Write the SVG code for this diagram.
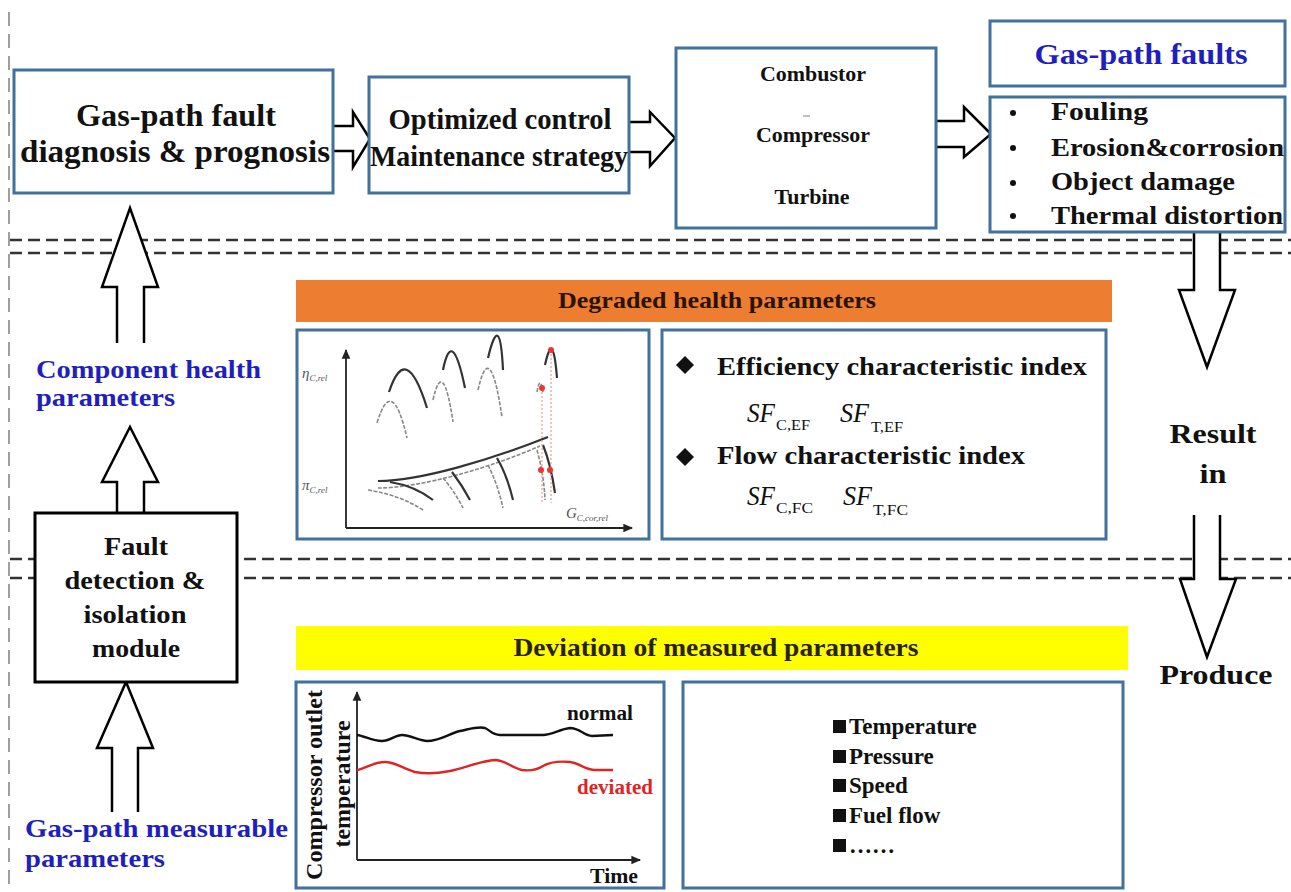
<svg xmlns="http://www.w3.org/2000/svg" width="1291" height="892" viewBox="0 0 1291 892">
  <style>
    .t { font-family: "Liberation Serif", "Times New Roman", serif; font-weight: bold; fill: #111; }
    .blue { fill: #1f1fbf; }
    .box { fill: #fff; stroke: #41719c; stroke-width: 3; }
    .kbox { fill: #fff; stroke: #000; stroke-width: 3; }
    .dash { stroke: #333; stroke-width: 2.5; stroke-dasharray: 12 6; fill: none; }
    .harrow { fill: #fff; stroke: #000; stroke-width: 2.5; stroke-linejoin: miter; }
    .sf { font-family: "Liberation Serif", "Times New Roman", serif; font-style: italic; fill: #111; }
    .sub { font-family: "Liberation Serif", "Times New Roman", serif; fill: #111; }
    .lbl { font-family: "Liberation Serif", "Times New Roman", serif; font-style: italic; fill: #555; }
    .dark { fill: none; stroke: #333; stroke-width: 2.2; }
    .light { fill: none; stroke: #888; stroke-width: 1.6; stroke-dasharray: 4 1.5; }
  </style>
  <defs>
    <marker id="axhead" viewBox="0 0 10 10" refX="8" refY="5" markerWidth="6" markerHeight="6" orient="auto-start-reverse">
      <path d="M0,1 L9,5 L0,9 Z" fill="#222"/>
    </marker>
    <clipPath id="listclip">
      <rect x="683" y="690" width="299" height="190"/>
    </clipPath>
  </defs>

  <rect width="1291" height="892" fill="#fff"/>

  <!-- section separators -->
  <g id="separators">
    <line class="dash" x1="9" y1="12" x2="9" y2="890" style="stroke:#888;stroke-width:1.6;stroke-dasharray:14 8"/>
    <line class="dash" x1="10" y1="240" x2="1291" y2="240"/>
    <line class="dash" x1="10" y1="253" x2="1291" y2="253"/>
    <line class="dash" x1="10" y1="559" x2="1291" y2="559"/>
    <line class="dash" x1="10" y1="578" x2="1291" y2="578"/>
  </g>

  <!-- connectors: hollow block arrows -->
  <g id="connectors">
    <path class="harrow" d="M333,126 H353 V112 L370,139 L353,167 V151 H333"/>
    <path class="harrow" d="M629,122 H650 V112 L675,138 L650,166 V152 H629"/>
    <path class="harrow" d="M937,121 H964 V107 L991,134 L964,157 V147 H937"/>
    <path class="harrow" d="M117,343 V287 H102 L130,208 L158,287 H144 V343"/>
    <path class="harrow" d="M117,513 V482 H102 L130,427 L158,482 H144 V513"/>
    <path class="harrow" d="M112,812 V748 H97 L126,682 L153,748 H138 V812"/>
    <path class="harrow" d="M1194,232 V290 H1179 L1207,367 L1235,290 H1220 V232"/>
    <path class="harrow" d="M1194,515 V579 H1180 L1207,657 L1236,579 H1220 V515"/>
  </g>

  <g id="diagnosis">
    <rect class="box" x="14" y="70" width="319" height="123"/>
    <text class="t" x="176" y="126" font-size="32" text-anchor="middle" textLength="200" lengthAdjust="spacingAndGlyphs">Gas-path fault</text>
    <text class="t" x="175" y="162" font-size="32" text-anchor="middle" textLength="310" lengthAdjust="spacingAndGlyphs">diagnosis &amp; prognosis</text>
  </g>

  <g id="strategy">
    <rect class="box" x="369" y="77" width="260" height="116"/>
    <text class="t" x="500" y="129" font-size="29" text-anchor="middle" textLength="223" lengthAdjust="spacingAndGlyphs">Optimized control</text>
    <text class="t" x="499" y="166" font-size="29" text-anchor="middle" textLength="258" lengthAdjust="spacingAndGlyphs">Maintenance strategy</text>
  </g>

  <g id="components">
    <rect class="box" x="676" y="48" width="260" height="180"/>
    <text class="t" x="813" y="81" font-size="20" text-anchor="middle" textLength="106" lengthAdjust="spacingAndGlyphs">Combustor</text>
    <line x1="803" y1="116" x2="810" y2="116" stroke="#aaa" stroke-width="1.5"/>
    <text class="t" x="813" y="142" font-size="20" text-anchor="middle" textLength="114" lengthAdjust="spacingAndGlyphs">Compressor</text>
    <text class="t" x="812" y="204" font-size="20" text-anchor="middle" textLength="75" lengthAdjust="spacingAndGlyphs">Turbine</text>
  </g>

  <g id="faults-title">
    <rect class="box" x="990" y="21" width="295" height="65"/>
    <text class="t blue" x="1141" y="64" font-size="29" text-anchor="middle" textLength="213" lengthAdjust="spacingAndGlyphs">Gas-path faults</text>
  </g>

  <g id="faults-list">
    <rect class="box" x="990" y="97" width="295" height="135"/>
    <g class="t" font-size="26">
      <circle cx="1013" cy="113" r="3" fill="#111"/>
      <circle cx="1013" cy="148" r="3" fill="#111"/>
      <circle cx="1013" cy="183" r="3" fill="#111"/>
      <circle cx="1013" cy="216" r="3" fill="#111"/>
      <text x="1051" y="120" textLength="97" lengthAdjust="spacingAndGlyphs">Fouling</text>
      <text x="1051" y="156" textLength="233" lengthAdjust="spacingAndGlyphs">Erosion&amp;corrosion</text>
      <text x="1051" y="190" textLength="184" lengthAdjust="spacingAndGlyphs">Object damage</text>
      <text x="1051" y="224" textLength="232" lengthAdjust="spacingAndGlyphs">Thermal distortion</text>
    </g>
  </g>

  <g id="component-health-label">
    <text class="t blue" x="36" y="378" font-size="25" textLength="225" lengthAdjust="spacingAndGlyphs">Component health</text>
    <text class="t blue" x="36" y="406" font-size="25" textLength="139" lengthAdjust="spacingAndGlyphs">parameters</text>
  </g>

  <g id="fdi-module">
    <rect class="kbox" x="35" y="513" width="202" height="169"/>
    <g class="t" font-size="26" text-anchor="middle">
      <text x="136" y="555" textLength="64" lengthAdjust="spacingAndGlyphs">Fault</text>
      <text x="135" y="589" textLength="141" lengthAdjust="spacingAndGlyphs">detection &amp;</text>
      <text x="135" y="623" textLength="103" lengthAdjust="spacingAndGlyphs">isolation</text>
      <text x="136" y="657" textLength="88" lengthAdjust="spacingAndGlyphs">module</text>
    </g>
  </g>

  <g id="measurable-label">
    <text class="t blue" x="25" y="837" font-size="26" textLength="263" lengthAdjust="spacingAndGlyphs">Gas-path measurable</text>
    <text class="t blue" x="25" y="867" font-size="26" textLength="140" lengthAdjust="spacingAndGlyphs">parameters</text>
  </g>

  <g id="result-labels">
    <text class="t" x="1213" y="443" font-size="28" text-anchor="middle" textLength="87" lengthAdjust="spacingAndGlyphs">Result</text>
    <text class="t" x="1213" y="483" font-size="28" text-anchor="middle" textLength="27" lengthAdjust="spacingAndGlyphs">in</text>
    <text class="t" x="1216" y="684" font-size="28" text-anchor="middle" textLength="113" lengthAdjust="spacingAndGlyphs">Produce</text>
  </g>

  <g id="degraded-header">
    <rect x="296" y="280" width="816" height="42" fill="#ed7d31"/>
    <text class="t" x="717" y="308" font-size="24" text-anchor="middle" textLength="318" lengthAdjust="spacingAndGlyphs" style="fill:#2a1205">Degraded health parameters</text>
  </g>

  <g id="compressor-map">
    <rect class="box" x="297" y="330" width="352" height="209"/>
    <line x1="346" y1="528" x2="346" y2="350" stroke="#222" stroke-width="1.8" marker-end="url(#axhead)"/>
    <line x1="346" y1="528" x2="632" y2="528" stroke="#222" stroke-width="1.8" marker-end="url(#axhead)"/>
    <text class="lbl" x="302" y="378" font-size="15">η<tspan font-size="9" dy="3">C,rel</tspan></text>
    <text class="lbl" x="302" y="490" font-size="15">π<tspan font-size="9" dy="3">C,rel</tspan></text>
    <text class="lbl" x="566" y="518" font-size="15">G<tspan font-size="9" dy="3">C,cor,rel</tspan></text>
    <!-- efficiency lines -->
    <path class="dark" d="M389,392 Q406,340 427,408"/>
    <path class="dark" d="M443,370 Q452,325 465,388"/>
    <path class="dark" d="M488,358 Q500,308 503,370"/>
    <path class="dark" d="M545,365 Q553,328 557,378"/>
    <path class="light" d="M377,423 Q392,373 407,438"/>
    <path class="light" d="M433,400 Q443,355 453,422"/>
    <path class="light" d="M478,390 Q490,336 502,417"/>
    <path class="light" d="M537,392 Q540,374 543,392"/>
    <!-- pressure-ratio lines -->
    <path class="dark" d="M378,481 C420,481 490,460 548,437"/>
    <path class="light" d="M378,488 C420,488 490,468 540,446"/>
    <path class="dark" d="M390,482 Q415,486 433,500"/>
    <path class="dark" d="M452,472 Q462,485 470,500"/>
    <path class="dark" d="M497,458 Q507,475 513,500"/>
    <path class="dark" d="M543,445 Q551,465 555,493"/>
    <path class="light" d="M368,490 Q400,495 423,510"/>
    <path class="light" d="M443,478 Q455,492 463,508"/>
    <path class="light" d="M488,465 Q498,485 503,508"/>
    <path class="light" d="M537,450 Q544,475 545,500"/>
    <!-- operating point shift -->
    <path d="M551,350 V503 M542,388 V503" stroke="#e79a9a" stroke-width="1.2" stroke-dasharray="2 2" fill="none"/>
    <g fill="#e33">
      <circle cx="551" cy="350" r="3"/>
      <circle cx="542" cy="388" r="3"/>
      <circle cx="541" cy="470" r="3"/>
      <circle cx="550" cy="470" r="3"/>
    </g>
  </g>

  <g id="health-indices">
    <rect class="box" x="662" y="330" width="444" height="209"/>
    <polygon points="685,356 694,365 685,374 676,365" fill="#111"/>
    <text class="t" x="717" y="375" font-size="25" textLength="370" lengthAdjust="spacingAndGlyphs">Efficiency characteristic index</text>
    <text class="sf" x="747" y="422" font-size="28" textLength="28" lengthAdjust="spacingAndGlyphs">SF</text>
    <text class="sub" x="776" y="430" font-size="15" textLength="34" lengthAdjust="spacingAndGlyphs">C,EF</text>
    <text class="sf" x="840" y="422" font-size="28" textLength="29" lengthAdjust="spacingAndGlyphs">SF</text>
    <text class="sub" x="871" y="432" font-size="15" textLength="32" lengthAdjust="spacingAndGlyphs">T,EF</text>
    <polygon points="685,448 694,457 685,466 676,457" fill="#111"/>
    <text class="t" x="717" y="464" font-size="25" textLength="308" lengthAdjust="spacingAndGlyphs">Flow characteristic index</text>
    <text class="sf" x="747" y="505" font-size="28" textLength="28" lengthAdjust="spacingAndGlyphs">SF</text>
    <text class="sub" x="776" y="513" font-size="15" textLength="37" lengthAdjust="spacingAndGlyphs">C,FC</text>
    <text class="sf" x="843" y="505" font-size="28" textLength="29" lengthAdjust="spacingAndGlyphs">SF</text>
    <text class="sub" x="873" y="515" font-size="15" textLength="35" lengthAdjust="spacingAndGlyphs">T,FC</text>
  </g>

  <g id="deviation-header">
    <rect x="296" y="626" width="832" height="44" fill="#ffff00"/>
    <text class="t" x="716" y="656" font-size="25" text-anchor="middle" textLength="405" lengthAdjust="spacingAndGlyphs" style="fill:#2a2205">Deviation of measured parameters</text>
  </g>

  <g id="temperature-chart">
    <rect class="box" x="296" y="682" width="368" height="206"/>
    <line x1="357" y1="860" x2="357" y2="692" stroke="#222" stroke-width="1.8" marker-end="url(#axhead)"/>
    <line x1="357" y1="860" x2="640" y2="860" stroke="#222" stroke-width="1.8" marker-end="url(#axhead)"/>
    <text class="t" transform="translate(322,785) rotate(-90)" font-size="24" text-anchor="middle" textLength="190" lengthAdjust="spacingAndGlyphs">Compressor outlet</text>
    <text class="t" transform="translate(350,784) rotate(-90)" font-size="24" text-anchor="middle" textLength="127" lengthAdjust="spacingAndGlyphs">temperature</text>
    <path d="M357,735 C365,736 372,741 382,741 C390,741 395,735 402,735 C410,735 420,741 427,741 C440,741 450,733 460,731 C470,729 478,726 485,728 C490,730 492,735 500,735 L543,735 C552,735 560,729 570,728 C580,728 584,736 592,736 L613,735" fill="none" stroke="#111" stroke-width="2.4"/>
    <path d="M357,770 C366,768 374,762 385,762 C395,762 402,768 415,772 C425,774 440,773 450,771 C465,768 480,761 495,760 C505,760 512,768 522,770 C530,771 537,770 543,766 C550,762 560,761 570,762 C580,763 585,770 595,770 L613,770" fill="none" stroke="#e02424" stroke-width="2.4"/>
    <text class="t" x="567" y="720" font-size="21" textLength="66" lengthAdjust="spacingAndGlyphs">normal</text>
    <text class="t" x="577" y="794" font-size="21" textLength="76" lengthAdjust="spacingAndGlyphs" style="fill:#e02424">deviated</text>
    <text class="t" x="590" y="883" font-size="21" textLength="48" lengthAdjust="spacingAndGlyphs">Time</text>
  </g>

  <g id="measured-list">
    <rect class="box" x="683" y="682" width="440" height="206"/>
    <g fill="#111">
      <rect x="833" y="720" width="13" height="13"/>
      <rect x="833" y="750" width="13" height="13"/>
      <rect x="833" y="779" width="13" height="13"/>
      <rect x="833" y="809" width="13" height="13"/>
      <rect x="833" y="839" width="13" height="13"/>
    </g>
    <g class="t" font-size="23" clip-path="url(#listclip)">
      <text x="849" y="734">Temperature</text>
      <text x="849" y="764">Pressure</text>
      <text x="849" y="793">Speed</text>
      <text x="849" y="823">Fuel flow</text>
      <text x="849" y="853">……</text>
    </g>
  </g>
</svg>
